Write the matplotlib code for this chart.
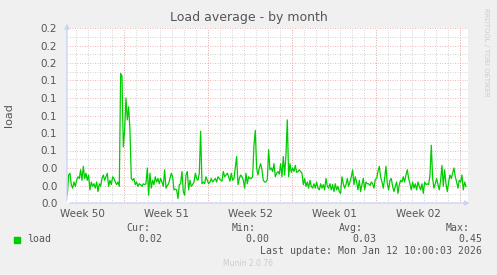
import matplotlib
matplotlib.use('Agg')
import matplotlib.pyplot as plt
import matplotlib.dates as mdates
import numpy as np
import pandas as pd

# load average, one sample every 160 minutes
load = [
    0.009, 0.032, 0.034, 0.021, 0.017, 0.024, 0.019, 0.026, 0.030, 0.028,
    0.038, 0.026, 0.042, 0.028, 0.034, 0.026, 0.032, 0.015, 0.024, 0.019,
    0.022, 0.017, 0.024, 0.013, 0.022, 0.019, 0.028, 0.032, 0.026, 0.030,
    0.034, 0.019, 0.026, 0.021, 0.030, 0.028, 0.024, 0.021, 0.024, 0.019,
    0.148, 0.145, 0.064, 0.083, 0.120, 0.095, 0.110, 0.083, 0.028, 0.026,
    0.028, 0.021, 0.024, 0.019, 0.022, 0.021, 0.019, 0.022, 0.021, 0.022,
    0.040, 0.009, 0.034, 0.017, 0.026, 0.021, 0.030, 0.024, 0.028, 0.022,
    0.028, 0.024, 0.019, 0.038, 0.017,
    0.020, 0.022, 0.028, 0.034, 0.030, 0.015, 0.016, 0.015, 0.005, 0.021,
    0.022, 0.036, 0.013, 0.009, 0.032, 0.036, 0.015, 0.026, 0.019, 0.021,
    0.024, 0.034, 0.028, 0.026, 0.034, 0.082, 0.022, 0.024, 0.022, 0.030,
    0.026, 0.022, 0.024, 0.028, 0.024, 0.026, 0.028, 0.024, 0.030, 0.028,
    0.026, 0.025, 0.036, 0.030, 0.032, 0.034, 0.030, 0.025, 0.034, 0.026,
    0.028, 0.040, 0.053, 0.021, 0.028, 0.032, 0.030, 0.026, 0.017, 0.034,
    0.022, 0.030, 0.028, 0.028, 0.030, 0.066, 0.083, 0.040, 0.032, 0.040,
    0.045, 0.038, 0.026, 0.024, 0.024,
    0.027, 0.061, 0.038, 0.040, 0.036, 0.045, 0.030, 0.034, 0.036, 0.033,
    0.045, 0.030, 0.053, 0.032, 0.055, 0.095, 0.030, 0.045, 0.035, 0.040,
    0.036, 0.043, 0.035, 0.036, 0.038, 0.036, 0.034, 0.021, 0.028, 0.019,
    0.024, 0.017, 0.026, 0.019, 0.017, 0.022, 0.017, 0.024, 0.017, 0.015,
    0.022, 0.017, 0.021, 0.015, 0.028, 0.019, 0.017, 0.022, 0.015, 0.021,
    0.013, 0.022, 0.015, 0.019, 0.013, 0.011, 0.030, 0.022, 0.017, 0.021,
    0.028, 0.019, 0.024, 0.030, 0.038, 0.021, 0.030, 0.024, 0.015, 0.026,
    0.013, 0.021, 0.028, 0.015, 0.024,
    0.022, 0.022, 0.020, 0.024, 0.022, 0.017, 0.027, 0.028, 0.036, 0.042,
    0.030, 0.024, 0.017, 0.028, 0.042, 0.022, 0.015, 0.026, 0.028, 0.019,
    0.013, 0.019, 0.024, 0.011, 0.021, 0.026, 0.024, 0.030, 0.024, 0.032,
    0.038, 0.028, 0.022, 0.015, 0.024, 0.017, 0.022, 0.015, 0.024, 0.019,
    0.015, 0.022, 0.011, 0.024, 0.021, 0.022, 0.021, 0.032, 0.066, 0.028,
    0.017, 0.022, 0.028, 0.021, 0.015, 0.026, 0.043, 0.019, 0.038, 0.022,
    0.013, 0.024, 0.032, 0.028, 0.034, 0.040, 0.030, 0.024, 0.017, 0.026,
    0.024, 0.032, 0.015, 0.024, 0.019,
]
times = pd.date_range('2025-12-10 06:00', periods=len(load), freq='160min')

view_start = pd.Timestamp('2025-12-10 05:24')
view_end = pd.Timestamp('2026-01-12 14:24')

week_starts = pd.date_range('2025-12-15', '2026-01-12', freq='7D')
week_labels = ['Week 50', 'Week 51', 'Week 52', 'Week 01', 'Week 02']
week_label_pos = pd.date_range('2025-12-11 12:00', periods=5, freq='7D')

y_ticks = [0.0, 0.02, 0.04, 0.06, 0.08, 0.10, 0.12, 0.14, 0.16, 0.18, 0.20]
y_labels = ['0.0', '0.0', '0.0', '0.1', '0.1', '0.1', '0.1', '0.1', '0.2', '0.2', '0.2']

stats_names = ['Cur:', 'Min:', 'Avg:', 'Max:']
stats_values = ['0.02', '0.00', '0.03', '0.45']

txt = '#555555'
axis_col = '#cdd3f5'

fig = plt.figure(figsize=(4.97, 2.75), dpi=100, facecolor='#f0f0f0')
ax = fig.add_axes([67 / 497, 72 / 275, 400.5 / 497, 175 / 275])
ax.set_facecolor('white')

ax.plot(times, load, color='#00cc00', lw=0.9, zorder=3)

ax.set_xlim(view_start, view_end)
ax.set_ylim(0, 0.2)

# grid: gray dotted minor, red dotted major
ax.set_yticks(y_ticks)
ax.set_yticklabels(y_labels)
ax.set_yticks(np.arange(0.01, 0.2, 0.02), minor=True)
ax.xaxis.set_minor_locator(mdates.DayLocator())
ax.set_xticks(week_label_pos)
ax.set_xticklabels(week_labels)
ax.grid(which='minor', color='#c4c4c4', ls=(0, (1, 2)), lw=0.6)
ax.grid(which='major', axis='y', color='#eb9f9f', ls=(0, (1, 2)), lw=0.6)
for d in week_starts:
    ax.axvline(d, color='#eb9f9f', ls=(0, (1, 2)), lw=0.6, zorder=1)
ax.set_axisbelow(True)

ax.tick_params(which='both', length=0, colors=txt, labelsize=7.5)
ax.tick_params(axis='y', pad=7)
ax.tick_params(axis='x', pad=4)

for s in ax.spines.values():
    s.set_visible(False)
# axis lines with arrows
ax.annotate('', xy=(0, 1.04), xytext=(0, 0), xycoords='axes fraction',
            arrowprops=dict(arrowstyle='-|>', color=axis_col, lw=1, mutation_scale=7))
ax.annotate('', xy=(1.013, 0), xytext=(0, 0), xycoords='axes fraction',
            arrowprops=dict(arrowstyle='-|>', color=axis_col, lw=1, mutation_scale=7))

ax.set_ylabel('load', color=txt, fontsize=8)
ax.yaxis.set_label_coords(-0.132, 0.5)

fig.text(0.5, 1 - 18 / 275, 'Load average - by month', ha='center', va='center',
         color=txt, fontsize=9)
fig.text(486 / 497, 1 - 52 / 275, 'RRDTOOL / TOBI OETIKER', rotation=270,
         ha='center', va='center', color='#cccccc', fontsize=5)

mono = 'DejaVu Sans Mono'
fig.patches.append(plt.Rectangle((14 / 497, 1 - 242.5 / 275), 6 / 497, 6 / 275,
                                 transform=fig.transFigure, color='#00cc00'))
fig.text(27 / 497, 1 - 239.5 / 275, 'load', family=mono, fontsize=7.1,
         color=txt, va='center')
name_right = [150, 256, 363, 470]
value_right = [162, 269, 376, 482]
for n, v, xn, xv in zip(stats_names, stats_values, name_right, value_right):
    fig.text(xn / 497, 1 - 228 / 275, n, family=mono, fontsize=7.1,
             color=txt, va='center', ha='right')
    fig.text(xv / 497, 1 - 239.5 / 275, v, family=mono, fontsize=7.1,
             color=txt, va='center', ha='right')
fig.text(482 / 497, 1 - 251 / 275, 'Last update: Mon Jan 12 10:00:03 2026',
         family=mono, fontsize=7.1, color=txt, va='center', ha='right')
fig.text(248 / 497, 1 - 264 / 275, 'Munin 2.0.76', fontsize=5.5,
         color='#cccccc', va='center', ha='center')

fig.savefig('out.png', dpi=100, facecolor=fig.get_facecolor())
